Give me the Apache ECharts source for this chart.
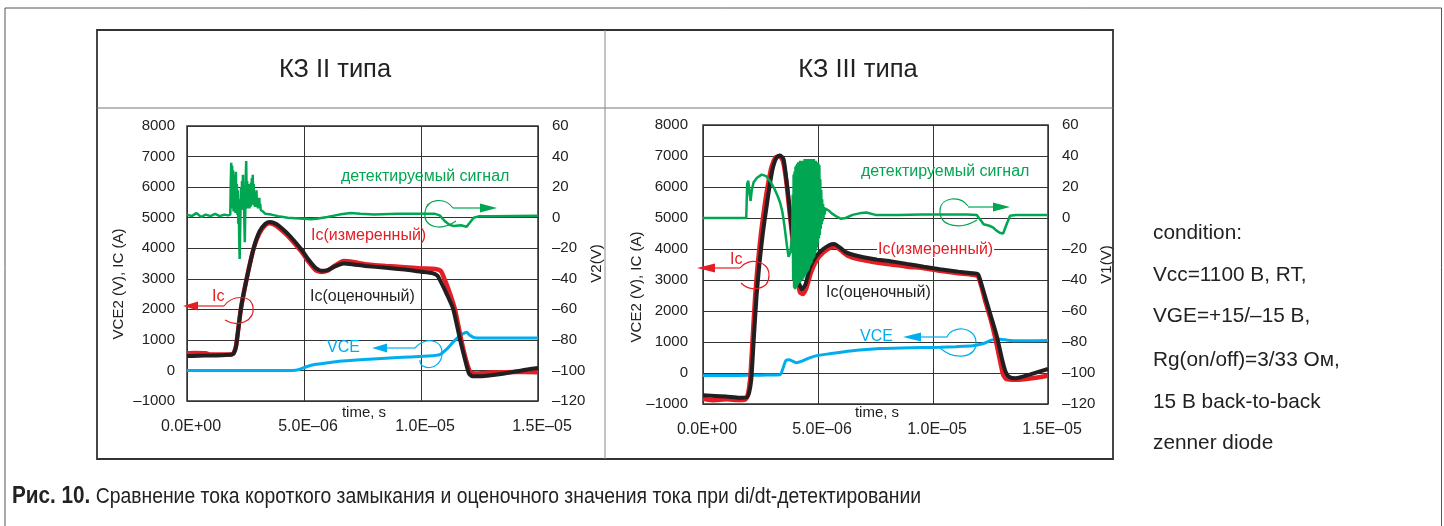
<!DOCTYPE html>
<html>
<head>
<meta charset="utf-8">
<script src="https://cdn.jsdelivr.net/npm/echarts@6/dist/echarts.min.js"></script>
<style>
  html, body { margin: 0; padding: 0; background: #fff; }
  #chart { width: 1444px; height: 526px; }
</style>
</head>
<body>
<div id="chart"></div>
<script>
// time in microseconds, currents/voltages on left axis, detector signal on right axis
const xTickLabels = ['0.0E+00', '5.0E–06', '1.0E–05', '1.5E–05'];
const panelTitles = ['КЗ II типа', 'КЗ III типа'];
const conditionLines = ['condition:', 'Vcc=1100 В, RT,', 'VGE=+15/–15 В,', 'Rg(on/off)=3/33 Ом,', '15 В back-to-back', 'zenner diode'];

// ---- КЗ II типа ----
const icMeasII = [[0,560],[0.3,570],[0.8,560],[1.0,520],[1.9,520],[2.0,580],[2.1,820],[2.3,2000],[2.55,3000],[2.85,4000],[3.1,4500],[3.35,4760],[3.55,4820],[3.8,4740],[4.1,4550],[4.4,4330],[4.9,3880],[5.2,3550],[5.5,3280],[5.75,3220],[6.0,3260],[6.3,3420],[6.7,3580],[7.1,3550],[7.6,3480],[8.5,3420],[9.3,3380],[10,3340],[10.6,3320],[10.85,3250],[11.0,3000],[11.2,2600],[11.45,2000],[11.72,1000],[11.93,330],[12.1,-40],[12.3,-100],[13,-70],[14,-50],[15,-60]];
const icEstII = [[0,470],[0.5,480],[1,490],[1.5,500],[1.9,520],[2.0,560],[2.1,800],[2.3,2000],[2.55,3000],[2.85,4000],[3.1,4550],[3.35,4800],[3.55,4860],[3.8,4800],[4.1,4620],[4.4,4400],[4.9,3950],[5.2,3620],[5.5,3350],[5.75,3260],[6.0,3280],[6.3,3400],[6.7,3500],[7.1,3470],[7.6,3420],[8.5,3360],[9.3,3300],[10,3230],[10.5,3180],[10.7,3100],[10.85,2900],[11.1,2500],[11.38,2000],[11.67,1000],[11.88,360],[12.05,-100],[12.2,-190],[12.6,-190],[13.5,-110],[14.3,0],[15,80]];
const vceII = [[0,0],[4.5,0],[4.8,30],[5.1,120],[5.5,200],[6.0,250],[6.5,300],[7.4,350],[8.5,400],[9.5,440],[10.3,470],[10.8,520],[11.1,700],[11.4,950],[11.7,1150],[11.95,1250],[12.1,1140],[12.3,1070],[13,1060],[15,1060]];
const detII = [[0,2],[0.2,1],[0.4,3],[0.6,0.5],[0.8,2],[1.0,1],[1.2,2.5],[1.4,1],[1.6,2],[1.75,1.5],
  [1.85,2],[1.87,22],[1.89,36],[1.91,10],[1.93,34],[1.95,6],[1.97,31],[1.99,4],[2.01,28],[2.03,8],[2.05,25],[2.07,3],[2.09,30],[2.11,6],[2.13,22],[2.15,2],[2.17,18],[2.19,-4],[2.21,12],[2.23,-14],[2.25,-27],[2.27,-10],[2.29,8],[2.31,20],[2.33,5],[2.35,24],[2.37,7],[2.39,28],[2.41,6],[2.43,21],[2.45,-3],[2.47,-16],[2.49,2],[2.51,26],[2.53,37],[2.55,12],[2.57,24],[2.59,6],[2.61,20],[2.63,8],[2.65,22],[2.67,6],[2.69,18],[2.71,7],[2.73,23],[2.75,8],[2.77,26],[2.79,9],[2.81,28],[2.83,10],[2.85,22],[2.87,8],[2.89,16],[2.91,7],[2.93,14],[2.95,8],[2.97,18],[2.99,7],[3.01,12],[3.03,6],[3.05,11],[3.07,6],[3.09,13],[3.11,6],[3.13,9],[3.15,5],[3.2,6],[3.25,4],[3.35,2.5],
  [3.6,2],[3.9,1],[4.3,0],[4.8,-0.5],[5.3,-1],[5.6,-0.5],[6.0,0.5],[6.5,2],[7.0,3],[7.4,2.5],[8,2],[9,2.5],[10,2.5],[10.6,2.5],[10.8,1.5],[11.0,-2],[11.2,-4.5],[11.4,-5.5],[11.7,-5],[11.95,-6],[12.1,-3],[12.25,0],[12.5,1],[13,1],[15,1.2]];

// ---- КЗ III типа ----
const icMeasIII = [[0,-830],[0.5,-880],[1,-850],[1.6,-870],[1.85,-850],[1.95,-700],[2.05,-200],[2.15,1000],[2.27,2500],[2.38,3500],[2.52,4500],[2.68,5400],[2.83,6100],[2.98,6650],[3.15,6950],[3.32,7000],[3.47,6850],[3.6,6300],[3.72,5500],[3.85,4600],[3.97,3800],[4.1,3000],[4.22,2600],[4.35,2550],[4.5,2750],[4.7,3250],[4.95,3650],[5.25,3900],[5.55,4050],[5.75,4080],[6.0,3950],[6.3,3780],[6.7,3680],[7.4,3580],[8.2,3500],[8.9,3430],[9.6,3380],[10.3,3300],[11.1,3220],[11.7,3170],[11.95,3130],[12.1,2800],[12.3,2250],[12.5,1750],[12.7,1150],[12.9,450],[13.05,-50],[13.2,-200],[13.6,-220],[14.3,-170],[15,-90]];
const icEstIII = [[0,-720],[1,-760],[1.6,-800],[1.9,-780],[2.0,-650],[2.1,-200],[2.2,1000],[2.33,2500],[2.45,3500],[2.6,4500],[2.77,5400],[2.91,6100],[3.05,6650],[3.2,6950],[3.35,7020],[3.5,6900],[3.6,6400],[3.71,5720],[3.82,4900],[3.93,4210],[4.05,3400],[4.15,2950],[4.3,2700],[4.45,2850],[4.65,3400],[4.9,3750],[5.23,4000],[5.5,4130],[5.7,4160],[5.95,4050],[6.2,3900],[6.6,3800],[7.4,3680],[8.2,3600],[8.86,3520],[9.6,3430],[10.3,3350],[11.1,3270],[11.7,3220],[11.95,3190],[12.04,3030],[12.3,2380],[12.5,1880],[12.77,1200],[13.0,450],[13.15,50],[13.3,-120],[13.6,-170],[14.2,-50],[15,130]];
const vceIII = [[0,-80],[1,-80],[2,-75],[2.5,-70],[3.0,-65],[3.35,-60],[3.5,200],[3.6,400],[3.75,430],[3.9,380],[4.07,330],[4.3,380],[4.6,480],[4.94,560],[5.5,620],[6.0,670],[6.8,740],[7.7,790],[8.6,810],[9.5,820],[10.3,830],[11.0,850],[11.74,880],[12.2,950],[12.5,1050],[12.77,1100],[13.0,1080],[13.5,1040],[14,1040],[15,1050]];
const detIII = [[0,0],[1.88,0],[1.92,22],[1.97,24],[2.02,16],[2.07,11],[2.12,18],[2.2,23],[2.35,26],[2.55,28],[2.75,27],[2.95,23],[3.1,19],[3.25,14],[3.35,10],[3.45,4],[3.55,-6],[3.65,-18],[3.72,-25],[3.8,-22],[3.88,-10],
  [3.90,15],[3.92,-40],[3.94,28],[3.96,-45],[3.98,30],[4.00,-46],[4.02,33],[4.04,-45],[4.06,34],[4.08,-44],[4.10,35],[4.12,-43],[4.14,36],[4.16,-42],[4.18,36],[4.20,-42],[4.22,37],[4.24,-41],[4.26,37],[4.28,-40],[4.30,36],[4.32,-40],[4.34,37],[4.36,-39],[4.38,37],[4.40,-38],[4.42,38],[4.44,-37],[4.46,37],[4.48,-36],[4.50,38],[4.52,-35],[4.54,38],[4.56,-34],[4.58,38],[4.60,-33],[4.62,38],[4.64,-31],[4.66,38],[4.68,-30],[4.70,38],[4.72,-29],[4.74,38],[4.76,-27],[4.78,37],[4.80,-26],[4.82,38],[4.84,-25],[4.86,37],[4.88,-23],[4.90,37],[4.92,-21],[4.94,36],[4.96,-19],[4.98,36],[5.00,-16],[5.02,35],[5.04,-13],[5.06,34],[5.08,-11],[5.10,25],[5.12,-7],[5.14,18],[5.16,-4],[5.18,12],[5.20,-2],[5.22,9],[5.24,0],[5.26,7],[5.28,2],[5.32,6],
  [5.45,5],[5.6,3],[5.8,1],[6.0,-0.5],[6.2,0],[6.5,2],[6.8,3],[7.1,3.5],[7.5,2],[8.5,2],[9.5,2.2],[10.5,2.3],[11.5,2.3],[11.9,2],[12.05,-1],[12.2,-4],[12.45,-5],[12.6,-6],[12.75,-8],[12.9,-9.5],[13.05,-10],[13.2,-4],[13.35,1.5],[13.6,2],[15,2]];

const FONT = 'Liberation Sans, Arial, sans-serif';
const RED = '#e31e24', BLACK = '#231f20', BLUE = '#00aeef', GREEN = '#00a651';

function dash(v) { return v < 0 ? '–' + Math.abs(v) : String(v); }

let myChart = echarts.init(document.getElementById('chart'));

function xAxisCfg(gi) {
  return {
    type: 'value', gridIndex: gi, min: 0, max: 15, interval: 5,
    axisLine: { show: false }, axisTick: { show: false },
    splitLine: { show: true, lineStyle: { color: '#333', width: 1 } },
    axisLabel: { fontSize: 16, color: '#222', fontFamily: FONT, margin: 18, padding: [0, 0, 0, 8],
      formatter: v => xTickLabels[Math.round(v / 5)] }
  };
}
function yLeftCfg(gi, margin) {
  return {
    type: 'value', gridIndex: gi, min: -1000, max: 8000, interval: 1000,
    axisLine: { show: false }, axisTick: { show: false },
    splitLine: { show: true, lineStyle: { color: '#333', width: 1 } },
    axisLabel: { fontSize: 15, color: '#222', fontFamily: FONT, margin: margin, formatter: dash }
  };
}
function yRightCfg(gi, name, gap) {
  return {
    type: 'value', gridIndex: gi, position: 'right', min: -120, max: 60, interval: 20,
    axisLine: { show: false }, axisTick: { show: false }, splitLine: { show: false },
    axisLabel: { fontSize: 15, color: '#222', fontFamily: FONT, margin: 14, formatter: dash },
    name: name, nameLocation: 'middle', nameGap: gap, nameRotate: 90,
    nameTextStyle: { fontSize: 15, color: '#222', fontFamily: FONT }
  };
}
function line(data, xi, yi, color, width, smooth) {
  return { type: 'line', data: data, xAxisIndex: xi, yAxisIndex: yi, showSymbol: false,
    smooth: smooth, lineStyle: { color: color, width: width }, itemStyle: { color: color } };
}

function txt(x, y, text, color, size, extra) {
  return { type: 'text', x: x, y: y, z: 100,
    style: Object.assign({ text: text, fill: color, fontSize: size, fontFamily: FONT,
      align: 'left', verticalAlign: 'middle' }, extra || {}) };
}
function stroke(type, shape, color, w) {
  return { type: type, z: 100, shape: shape, style: { stroke: color, fill: null, lineWidth: w } };
}
function arrowHead(pts, color) {
  return { type: 'polygon', z: 100, shape: { points: pts }, style: { fill: color } };
}
// hand-drawn loop: two cubic curves, p = [x0,y0, c1x,c1y, c2x,c2y, x1,y1, c3x,c3y, c4x,c4y, x2,y2]
function loop(p, color) {
  return [
    stroke('bezierCurve', { x1: p[0], y1: p[1], cpx1: p[2], cpy1: p[3], cpx2: p[4], cpy2: p[5], x2: p[6], y2: p[7] }, color, 1.2),
    stroke('bezierCurve', { x1: p[6], y1: p[7], cpx1: p[8], cpy1: p[9], cpx2: p[10], cpy2: p[11], x2: p[12], y2: p[13] }, color, 1.2)
  ];
}

let graphics = [
  // frames
  stroke('rect', { x: 5, y: 8, width: 1436.5, height: 530 }, '#555', 1),
  stroke('rect', { x: 97, y: 30, width: 1016, height: 429 }, '#333', 1.8),
  stroke('line', { x1: 97, y1: 108, x2: 1113, y2: 108 }, '#777', 1),
  stroke('line', { x1: 605, y1: 30, x2: 605, y2: 459 }, '#888', 1),
  txt(335, 70, panelTitles[0], '#222', 25.5, { align: 'center' }),
  txt(858, 70, panelTitles[1], '#222', 25.5, { align: 'center' }),
  // axis names
  { type: 'text', x: 119, y: 284, rotation: Math.PI / 2, z: 100,
    style: { text: 'VCE2 (V), IC (A)', fill: '#222', fontSize: 15, fontFamily: FONT, align: 'center', verticalAlign: 'middle' } },
  { type: 'text', x: 637, y: 287, rotation: Math.PI / 2, z: 100,
    style: { text: 'VCE2 (V), IC (A)', fill: '#222', fontSize: 15, fontFamily: FONT, align: 'center', verticalAlign: 'middle' } },
  txt(364, 413, 'time, s', '#222', 15, { align: 'center' }),
  txt(877, 413, 'time, s', '#222', 15, { align: 'center' }),

  // annotations, panel II
  txt(341, 177, 'детектируемый сигнал', GREEN, 16),
  ...loop([453,208, 445,197, 427,198, 425,212, 423,227, 440,232, 456,221], GREEN),
  stroke('line', { x1: 453, y1: 208, x2: 482, y2: 208 }, GREEN, 1.2),
  arrowHead([[497, 208], [480, 203.5], [480, 212.5]], GREEN),
  txt(311, 236, 'Ic(измеренный)', RED, 16),
  txt(310, 297, 'Ic(оценочный)', BLACK, 16),
  txt(212, 297, 'Ic', RED, 16),
  stroke('line', { x1: 196, y1: 306, x2: 224, y2: 306 }, RED, 1.2),
  arrowHead([[183, 306], [198, 301.5], [198, 310.5]], RED),
  ...loop([224,306, 232,295, 251,294, 253,307, 255,321, 238,328, 225,320], RED),
  txt(327, 348, 'VCE', BLUE, 16),
  stroke('line', { x1: 386, y1: 348, x2: 415, y2: 348 }, BLUE, 1.2),
  arrowHead([[372, 348], [387, 343.5], [387, 352.5]], BLUE),
  ...loop([415,348, 424,337, 443,338, 442,354, 441,371, 419,371, 420,360], BLUE),

  // annotations, panel III
  txt(861, 172, 'детектируемый сигнал', GREEN, 16),
  ...loop([968,206, 960,195, 941,197, 940,210, 939,227, 961,230, 977,220], GREEN),
  stroke('line', { x1: 968, y1: 207, x2: 994, y2: 207 }, GREEN, 1.2),
  arrowHead([[1010, 207], [993, 202.5], [993, 211.5]], GREEN),
  txt(877, 250, 'Ic(измеренный)', RED, 16, { backgroundColor: '#fff', padding: [0, 1] }),
  txt(826, 293, 'Ic(оценочный)', BLACK, 16),
  txt(730, 260, 'Ic', RED, 16),
  stroke('line', { x1: 713, y1: 268, x2: 740, y2: 268 }, RED, 1.2),
  arrowHead([[697, 268], [715, 263.5], [715, 272.5]], RED),
  ...loop([740,268, 748,257, 769,260, 769,275, 769,291, 750,292, 741,283], RED),
  txt(860, 337, 'VCE', BLUE, 16),
  stroke('line', { x1: 920, y1: 337, x2: 947, y2: 337 }, BLUE, 1.2),
  arrowHead([[903, 337], [921, 332.5], [921, 341.5]], BLUE),
  ...loop([947,337, 952,325, 975,326, 976,342, 977,358, 955,361, 940,348], BLUE),

  // caption, condensed look via horizontal scale
  { type: 'text', x: 12, y: 497, z: 100, scaleX: 0.9,
    style: { text: '{b|Рис. 10.} Сравнение тока короткого замыкания и оценочного значения тока при di/dt-детектировании',
      fill: '#222', fontSize: 21.5, fontFamily: FONT, verticalAlign: 'middle',
      rich: { b: { fontWeight: 'bold', fontSize: 23, fontFamily: FONT, fill: '#222' } } } }
];
const condY = [233, 275, 316, 360, 402, 443];
conditionLines.forEach((s, i) => graphics.push(txt(1153, condY[i], s, '#222', 20.8)));

let option = {
  animation: false,
  backgroundColor: '#fff',
  grid: [
    { left: 187, top: 126, width: 351, height: 275, show: true, borderColor: '#333', borderWidth: 1.5 },
    { left: 703, top: 125, width: 345, height: 279, show: true, borderColor: '#333', borderWidth: 1.5 }
  ],
  xAxis: [xAxisCfg(0), xAxisCfg(1)],
  yAxis: [yLeftCfg(0, 12), yRightCfg(0, 'V2(V)', 44), yLeftCfg(1, 15), yRightCfg(1, 'V1(V)', 50)],
  series: [
    line(vceII, 0, 0, BLUE, 3, 0.2),
    line(icMeasII, 0, 0, RED, 4.5, 0.2),
    line(icEstII, 0, 0, BLACK, 4, 0.2),
    line(detII, 0, 1, GREEN, 2.5, false),
    line(vceIII, 1, 2, BLUE, 3, 0.2),
    line(icMeasIII, 1, 2, RED, 4.5, 0.2),
    line(icEstIII, 1, 2, BLACK, 4, 0.2),
    line(detIII, 1, 3, GREEN, 2.5, false)
  ],
  graphic: graphics
};
myChart.setOption(option);
</script>
</body>
</html>
